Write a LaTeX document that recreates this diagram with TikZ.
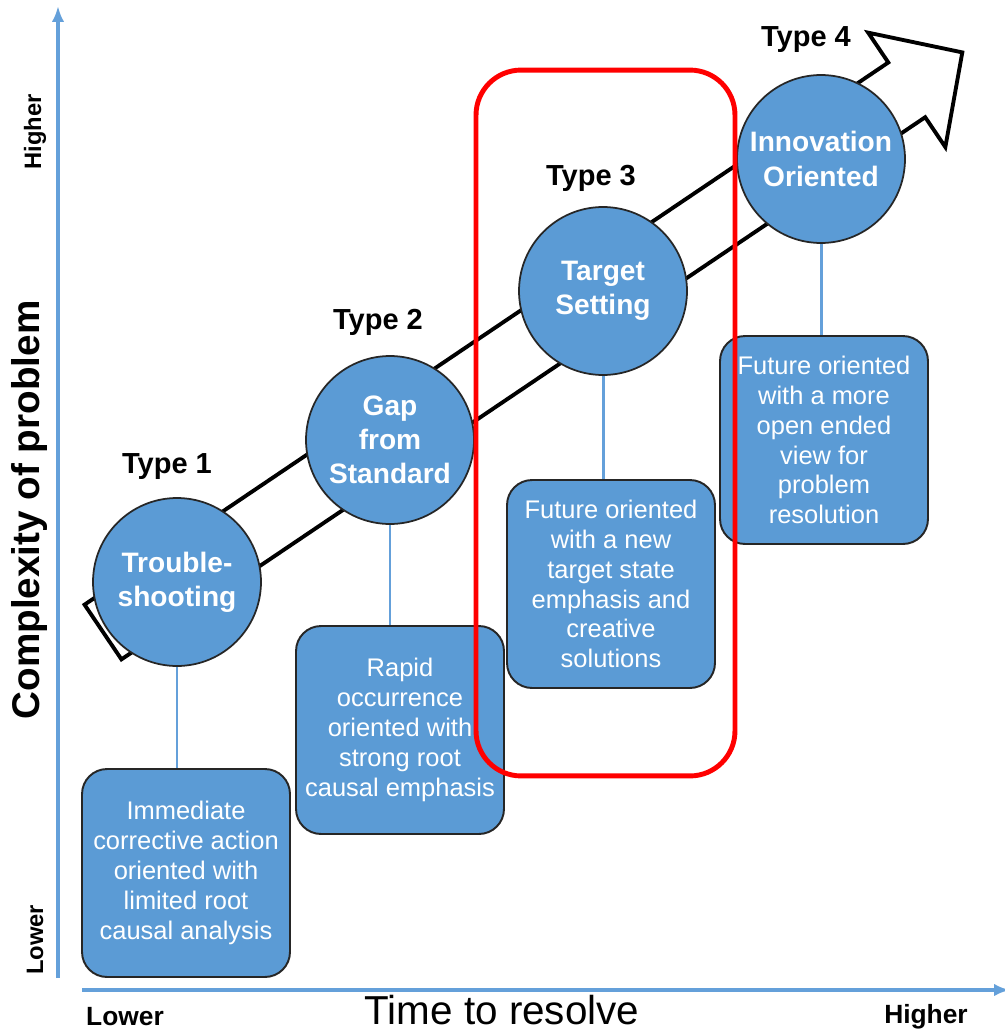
\documentclass[tikz,border=0pt]{standalone}
\usepackage{fontspec}
\setmainfont{Liberation Sans}
\usepackage{xcolor}
\usetikzlibrary{arrows.meta}

\definecolor{typeblue}{RGB}{91,155,213}
\definecolor{axisblue}{RGB}{100,160,218}

\tikzset{
  typecircle/.style={circle, fill=typeblue, draw=black!85, line width=1pt,
    minimum size=3.36cm, inner sep=0pt, align=center, text=white,
    font=\fontsize{16}{19.5}\selectfont\bfseries},
  typebox/.style={rounded corners=0.5cm, fill=typeblue, draw=black!85, line width=1.1pt,
    minimum width=4.16cm, minimum height=4.16cm, inner sep=2pt, align=center, text=white,
    font=\fontsize{14.5}{17}\selectfont},
  typelabel/.style={font=\fontsize{16.5}{19}\selectfont\bfseries},
  link/.style={axisblue, line width=1.7pt},
  axis/.style={axisblue, line width=1.8pt, -{Latex[length=9pt,width=7pt]}}
}

\begin{document}
\begin{tikzpicture}[x=0.02cm, y=-0.02cm]
  \useasboundingbox (0,0) rectangle (1004,1031);

  % Axes
  \coordinate (ybot) at (58,978);
  \coordinate (ytop) at (58,6);
  \coordinate (xleft) at (82,990);
  \coordinate (xright) at (1010,990);
  \draw[axis] (ybot) -- (ytop);
  \draw[axis] (xleft) -- (xright);

  % Axis labels
  \node[rotate=90, font=\fontsize{22}{26}\selectfont\bfseries] (ylab) at (30,510) {Complexity of problem};
  \node[rotate=90, font=\fontsize{13.5}{16}\selectfont\bfseries] (yhigh) at (35,132) {Higher};
  \node[rotate=90, font=\fontsize{13.5}{16}\selectfont\bfseries] (ylow) at (35,940) {Lower};
  \node[font=\fontsize{23}{27}\selectfont] (xlab) at (502,1010) {Time to resolve};
  \node[font=\fontsize{15}{18}\selectfont\bfseries] (xlow) at (125,1017) {Lower};
  \node[font=\fontsize{15}{18}\selectfont\bfseries] (xhigh) at (926,1017) {Higher};

  % Big hollow arrow
  \begin{scope}[shift={(103,632)}, rotate=34]
    \draw[fill=white, draw=black, line width=2.2pt, line join=miter]
      (0,33) -- (969.5,33) -- (969.5,69) -- (1036.5,0) -- (969.5,-69)
      -- (969.5,-33) -- (0,-33) -- cycle;
  \end{scope}

  % Circles
  \node[typecircle] (c1) at (177,582) {Trouble-\\shooting};
  \node[typecircle] (c2) at (390,440) {Gap\\from\\Standard};
  \node[typecircle] (c3) at (603,291) {Target\\Setting};
  \node[typecircle] (c4) at (821,159) {Innovation\\Oriented};

  % Type labels
  \node[typelabel] (t1) at (167,467) {Type 1};
  \node[typelabel] (t2) at (378,322) {Type 2};
  \node[typelabel] (t3) at (591,178) {Type 3};
  \node[typelabel] (t4) at (806,40) {Type 4};

  % Description boxes
  \node[typebox] (b1) at (186,873) {Immediate\\corrective action\\oriented with\\limited root\\causal analysis};
  \node[typebox] (b2) at (400,730) {Rapid\\occurrence\\oriented with\\strong root\\causal emphasis};
  \node[typebox] (b3) at (611,584) {Future oriented\\with a new\\target state\\emphasis and\\creative\\solutions};
  \node[typebox] (b4) at (824,440) {Future oriented\\with a more\\open ended\\view for\\problem\\resolution};

  % Connectors
  \foreach \i in {1,2,3,4}
    \draw[link] (c\i.south) -- (c\i.south |- b\i.north);

  % Highlight
  \node[draw=red, line width=2.8pt, rounded corners=0.9cm, minimum width=5.18cm,
    minimum height=14.12cm, inner sep=0pt] (focus) at (605.5,423) {};
\end{tikzpicture}
\end{document}
